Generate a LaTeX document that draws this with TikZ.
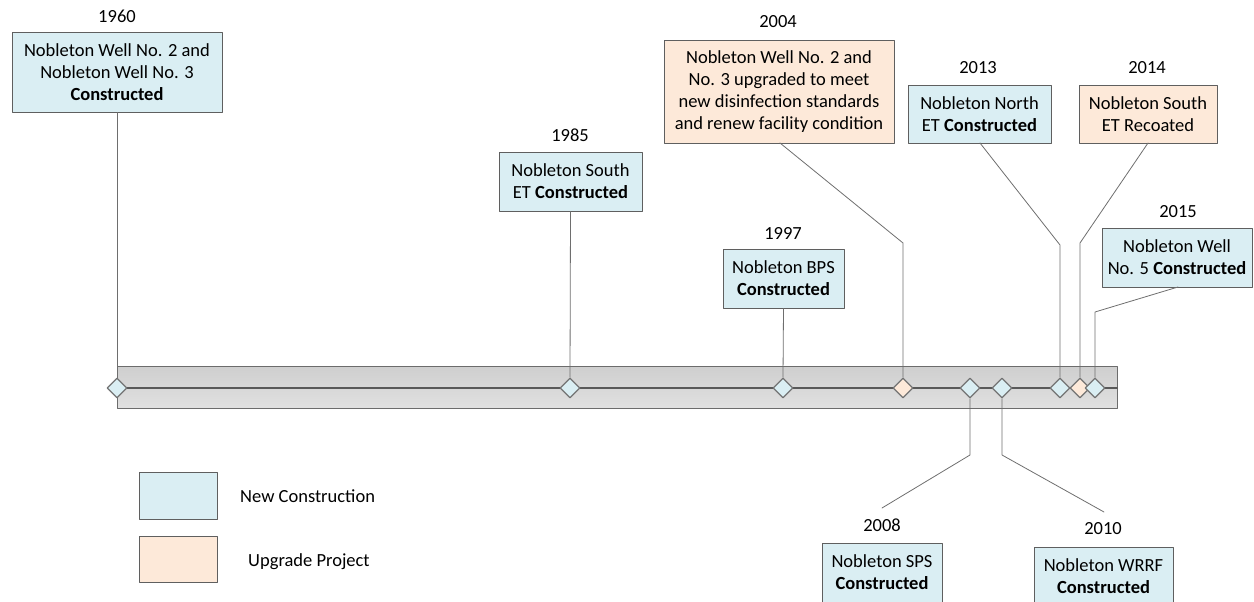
\documentclass[tikz,border=0pt]{standalone}
\usepackage{fontspec}
\setmainfont{Carlito}
\usetikzlibrary{shapes.geometric}

\definecolor{newblue}{HTML}{DAEEF3}
\definecolor{upgorange}{HTML}{FDE9D9}
\definecolor{boxline}{HTML}{5F5F5F}
\definecolor{linkgray}{HTML}{6E6E6E}

\begin{document}
\begin{tikzpicture}[
  x=1pt, y=-1pt,
  line cap=round,
  line join=round,
  every node/.style={font=\fontsize{18.5}{22}\selectfont},
  event/.style={draw=boxline, line width=0.9pt, align=center, inner sep=2pt},
  newbox/.style={event, fill=newblue},
  upgbox/.style={event, fill=upgorange},
  year/.style={inner sep=0pt},
  gem/.style={diamond, draw=gray!90!black, line width=1.3pt, inner sep=0pt,
    minimum width=20, minimum height=20},
  newgem/.style={gem, fill=newblue},
  upggem/.style={gem, fill=upgorange},
  link/.style={draw=linkgray, line width=0.8pt}
]
\useasboundingbox (0,0) rectangle (1254,602);
\clip (0,0) rectangle (1254,602);

% timeline band
\shade [top color=gray!38, bottom color=gray!24] (117,366) rectangle (1117,408);
\draw [gray!85!black, line width=0.9pt] (117,408) -- (117,366) -- (1117,366) -- (1117,408) -- cycle;
\draw [black!65, line width=2.4pt] (117,388) -- (1117,388);

% event boxes
\node [newbox, minimum width=210, minimum height=80] (b1960) at (117,72)
  {Nobleton Well No. 2 and\\Nobleton Well No. 3\\\textbf{Constructed}};
\node [newbox, minimum width=143, minimum height=59] (b1985) at (570.5,181.5)
  {Nobleton South\\ET \textbf{Constructed}};
\node [newbox, minimum width=121, minimum height=59] (b1997) at (783.5,278.5)
  {Nobleton BPS\\\textbf{Constructed}};
\node [upgbox, minimum width=230, minimum height=103] (b2004) at (779,91.5)
  {Nobleton Well No. 2 and\\No. 3 upgraded to meet\\new disinfection standards\\and renew facility condition};
\node [newbox, minimum width=120, minimum height=59] (b2008) at (882,572.5)
  {Nobleton SPS\\\textbf{Constructed}};
\node [newbox, minimum width=139, minimum height=59] (b2010) at (1103.5,576.5)
  {Nobleton WRRF\\\textbf{Constructed}};
\node [newbox, minimum width=143, minimum height=58] (b2013) at (979.5,114)
  {Nobleton North\\ET \textbf{Constructed}};
\node [upgbox, minimum width=138, minimum height=58] (b2014) at (1148,114)
  {Nobleton South\\ET Recoated};
\node [newbox, minimum width=150, minimum height=59] (b2015) at (1177,257.5)
  {Nobleton Well\\No. 5 \textbf{Constructed}};

% years
\node [year] (t1960) at (117,16) {1960};
\node [year] (t1985) at (570,135) {1985};
\node [year] (t1997) at (783,233) {1997};
\node [year] (t2004) at (778,22) {2004};
\node [year] (t2008) at (882,525) {2008};
\node [year] (t2010) at (1103,529) {2010};
\node [year] (t2013) at (978,68) {2013};
\node [year] (t2014) at (1147,68) {2014};
\node [year] (t2015) at (1178,212) {2015};

% bends of the slanted links
\coordinate (k2004) at (903,243);
\coordinate (k2013) at (1060,245);
\coordinate (k2014) at (1080,243);
\coordinate (k2015) at (1095,312);
\coordinate (k2008) at (970,455);
\coordinate (k2010) at (1002,455);
\coordinate (e2008) at (882,508);
\coordinate (e2010) at (1104,512);
\coordinate (s2004) at (780,143);
\coordinate (s2013) at (980,143);
\coordinate (s2014) at (1148,143);
\coordinate (s2015) at (1178,287);

% markers on the line
\node [newgem] (d1960) at (117,388) {};
\node [newgem] (d1985) at (570,388) {};
\node [newgem] (d1997) at (783,388) {};
\node [upggem] (d2004) at (903,388) {};
\node [newgem] (d2008) at (970,388) {};
\node [newgem] (d2010) at (1002,388) {};
\node [newgem] (d2013) at (1060,388) {};
\node [upggem] (d2014) at (1080,388) {};
\node [newgem] (d2015) at (1095,388) {};

% links
\draw [link] (b1960.south) -- (d1960.north);
\draw [link] (b1985.south) -- (d1985.north);
\draw [link] (b1997.south) -- (d1997.north);
\draw [link] (s2004) -- (k2004) -- (d2004.north);
\draw [link] (s2013) -- (k2013) -- (d2013.north);
\draw [link] (s2014) -- (k2014) -- (d2014.north);
\draw [link] (s2015) -- (k2015) -- (d2015.north);
\draw [link] (d2008.south) -- (k2008) -- (e2008);
\draw [link] (d2010.south) -- (k2010) -- (e2010);

% legend
\node [newbox, minimum width=78, minimum height=47] (lnew) at (178,495.5) {};
\node [upgbox, minimum width=78, minimum height=46] (lupg) at (178,559) {};
\node [anchor=west, inner sep=0pt] (tnew) at (240,496) {New Construction};
\node [anchor=west, inner sep=0pt] (tupg) at (248,562) {Upgrade Project};

\end{tikzpicture}
\end{document}
